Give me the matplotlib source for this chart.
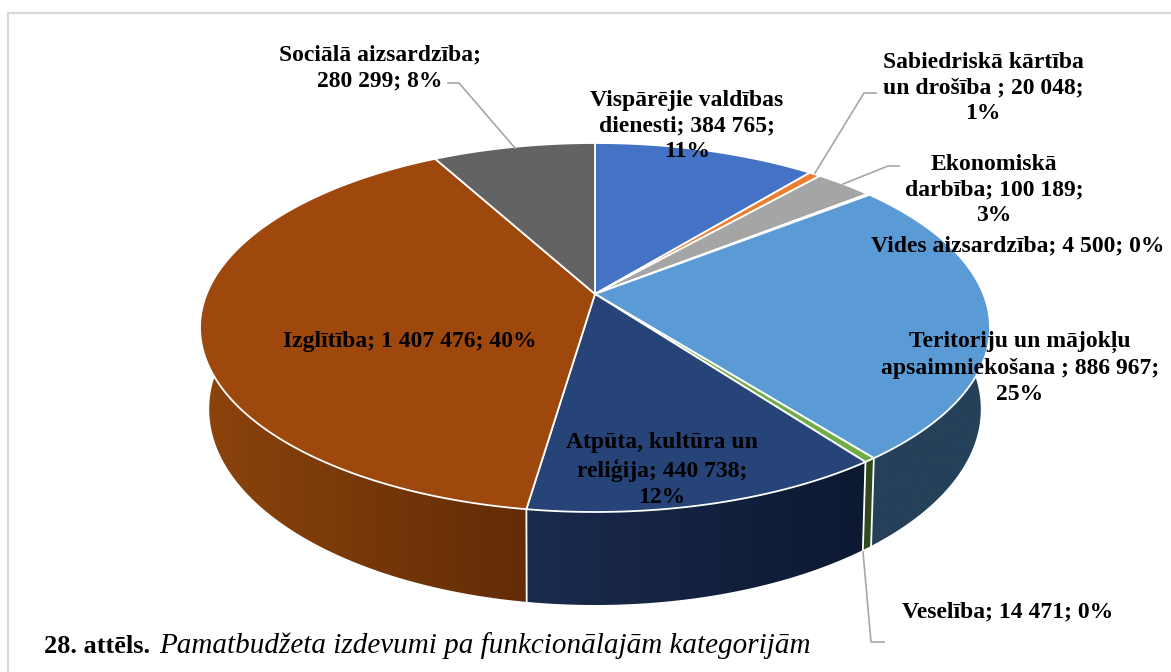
import numpy as np
import matplotlib
matplotlib.use("Agg")
import matplotlib.pyplot as plt
from matplotlib.patches import Polygon

categories = ["Vispārējie valdības\ndienesti; 384 765;\n11%",
              "Sabiedriskā kārtība\nun drošība ; 20 048;\n1%",
              "Ekonomiskā\ndarbība; 100 189;\n3%",
              "Vides aizsardzība; 4 500; 0%",
              "Teritoriju un mājokļu\napsaimniekošana ; 886 967;\n25%",
              "Veselība; 14 471; 0%",
              "Atpūta, kultūra un\nreliģija; 440 738;\n12%",
              "Izglītība; 1 407 476; 40%",
              "Sociālā aizsardzība;\n280 299; 8%"]
values = [384765, 20048, 100189, 4500, 886967, 14471, 440738, 1407476, 280299]
top_colors = ["#4472c4", "#ed7d31", "#a5a5a5", "#ffc000", "#5b9bd5",
              "#70ad47", "#264478", "#9e480e", "#636363"]
side_left = ["#2a4476", "#8e4b1d", "#636363", "#997300", "#254159",
             "#2f4a1c", "#1b2b4e", "#8c440b", "#3b3b3b"]
side_right = ["#2a4476", "#8e4b1d", "#636363", "#997300", "#254159",
              "#2f4a1c", "#0d1931", "#622c07", "#3b3b3b"]
label_pos = [(687, 126), (983, 88), (994, 190), (1018, 246), (1020, 368),
             (1008, 612), (662, 470), (410, 341), (380, 68)]

# the ellipse is a perspective view of a circle, centre is not in the middle
CX, CY = 595, 294
K, A, B = 0.1816, 178.4, 388.4
# bottom rim has its own numbers
K2, A2, B2, D2 = 0.2, 188, 378, 76


def top_point(theta):
    x = np.sin(theta)
    y = np.cos(theta)
    d = 1 + K * y
    return CX + B * x / d, CY - A * y / d


def bottom_point(theta):
    x = np.sin(theta)
    y = np.cos(theta)
    d = 1 + K2 * y
    return CX + B2 * x / d, CY + D2 - A2 * y / d


def arc(func, t0, t1):
    t = np.linspace(t0, t1, max(int((t1 - t0) * 80), 2))
    return np.column_stack(func(t))


fig = plt.figure(figsize=(11.71, 6.72), dpi=100)
ax = fig.add_axes([0, 0, 1, 1])
ax.axis("off")

# frame of the cropped page, only top and left show
ax.plot([8, 8, 1171], [672, 13, 13], color="#d9d9d9", lw=1.6, zorder=0)

total = sum(values)
edges = 2 * np.pi * np.cumsum([0] + values) / total

# side walls first, top face covers the back ones
for i in range(len(values)):
    t0, t1 = edges[i], edges[i + 1]
    wall = np.vstack([arc(top_point, t0, t1), arc(bottom_point, t0, t1)[::-1]])
    clip = Polygon(wall, closed=True, transform=ax.transData, fc="none", ec="none")
    ax.add_patch(clip)
    c0 = np.array(matplotlib.colors.to_rgb(side_left[i]))
    c1 = np.array(matplotlib.colors.to_rgb(side_right[i]))
    w = np.linspace(0, 1, 128)[:, None]
    grad = (c0 * (1 - w) + c1 * w)[None, :, :]
    im = ax.imshow(grad, extent=(wall[:, 0].min(), wall[:, 0].max(), wall[:, 1].max(), wall[:, 1].min()),
                   aspect="auto", interpolation="bilinear", zorder=1)
    im.set_clip_path(clip)

# white seams on the front wall
for t in edges:
    if np.pi / 2 < t % (2 * np.pi) < 3 * np.pi / 2:
        p0 = top_point(t)
        p1 = bottom_point(t)
        ax.plot([p0[0], p1[0]], [p0[1], p1[1]], color="white", lw=1.3, zorder=2)

for i in range(len(values)):
    rim = arc(top_point, edges[i], edges[i + 1])
    pts = np.vstack([[CX, CY], rim])
    ax.add_patch(Polygon(pts, closed=True, fc=top_colors[i], ec="white", lw=1.3, zorder=3))

# leader lines
leader_x = [[515, 459, 448], [815, 864, 876], [843, 888, 899], [863, 871, 884]]
leader_y = [[148, 83, 83], [173, 93, 93], [184, 166, 166], [552, 642, 642]]
for lx, ly in zip(leader_x, leader_y):
    ax.plot(lx, ly, color="#a6a6a6", lw=1.2, zorder=4)

font = dict(family="Liberation Serif", fontweight="bold", fontsize=17, color="black")
for s, (x, y) in zip(categories, label_pos):
    ax.text(x, y, s, ha="center", va="center", linespacing=1.3, zorder=5, **font)

ax.text(44, 653, "28. attēls.", family="Liberation Serif", fontweight="bold", fontsize=19,
        ha="left", va="baseline", zorder=5)
ax.text(159, 653, "Pamatbudžeta izdevumi pa funkcionālajām kategorijām", family="Liberation Serif",
        style="italic", fontsize=21, ha="left", va="baseline", zorder=5)

ax.set_xlim(0, 1171)
ax.set_ylim(672, 0)
fig.savefig("out.png", dpi=100)
